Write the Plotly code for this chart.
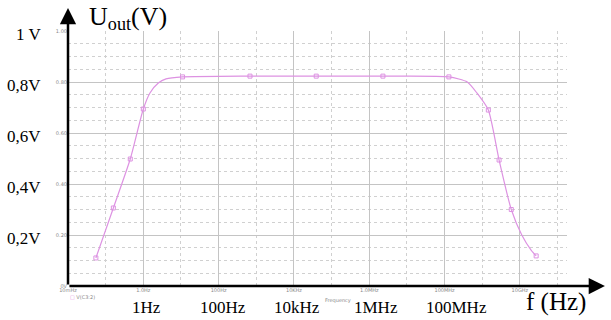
import math
import plotly.graph_objects as go

# ---- data ----
marker_freq = [0.055, 0.16, 0.45, 1.0, 11, 680, 39000, 2.3e6, 1.3e8, 1.45e9, 2.8e9, 5.9e9, 2.7e10]
marker_volt = [0.11, 0.306, 0.498, 0.694, 0.82, 0.823, 0.823, 0.823, 0.82, 0.69, 0.494, 0.30, 0.118]

curve_freq = [0.055, 0.16, 0.45, 1.0, 1.5, 2.5, 4.0, 11, 680, 39000, 2.3e6, 1.3e8,
              4.0e8, 7.2e8, 1.45e9, 2.8e9, 5.9e9, 1.12e10, 2.0e10, 2.7e10]
curve_volt = [0.11, 0.306, 0.498, 0.694, 0.757, 0.796, 0.812, 0.82, 0.823, 0.823, 0.823, 0.82,
              0.80, 0.757, 0.69, 0.494, 0.30, 0.20, 0.14, 0.118]

x_major = [1e-2, 1, 1e2, 1e4, 1e6, 1e8, 1e10]
x_major_text = ["10mHz", "1.0Hz", "100Hz", "10KHz", "1.0MHz", "100MHz", "10GHz"]
x_minor = [1e-1, 10, 1e3, 1e5, 1e7, 1e9, 1e11]

y_major = [0, 0.2, 0.4, 0.6, 0.8, 1.0]
y_major_text = ["0V", "0.20", "0.40", "0.60", "0.80", "1.00"]
y_minor = [0.05, 0.1, 0.15, 0.25, 0.3, 0.35, 0.45, 0.5, 0.55, 0.65, 0.7, 0.75, 0.85, 0.9, 0.95]

big_y_vals = [1.0, 0.8, 0.6, 0.4, 0.2]
big_y_text = ["1 V", "0,8V", "0,6V", "0,4V", "0,2V"]

big_x_vals = [1, 1e2, 1e4, 1e6, 1e8]
big_x_text = ["1Hz", "100Hz", "10kHz", "1MHz", "100MHz"]
big_x_shift = [3, 4, 3, 7, 12]

LINE = "#dd92e2"
SERIF = "Liberation Serif, Times New Roman, serif"
SMALL = dict(size=5, color="#888888", family="DejaVu Sans")

fig = go.Figure()
fig.add_trace(go.Scatter(x=curve_freq, y=curve_volt, mode="lines",
                         line=dict(color=LINE, width=1.2, shape="spline", smoothing=0.6),
                         hoverinfo="skip", showlegend=False))
fig.add_trace(go.Scatter(x=marker_freq, y=marker_volt, mode="markers",
                         marker=dict(symbol="square-open", size=4, color=LINE, line=dict(width=1)),
                         showlegend=False))

fig.update_layout(
    width=611, height=320,
    margin=dict(l=68, r=44, t=31, b=34, autoexpand=False),
    paper_bgcolor="white", plot_bgcolor="white",
    showlegend=False,
    xaxis=dict(type="log", range=[-2, 11.25], showline=False, zeroline=False, automargin=False,
               tickmode="array", tickvals=x_major, ticktext=x_major_text, tickfont=SMALL,
               showgrid=True, gridcolor="#c4c4c4", gridwidth=1, ticks="",
               minor=dict(tickmode="array", tickvals=x_minor, showgrid=True,
                          gridcolor="#d0d0d0", griddash="dot", gridwidth=1)),
    yaxis=dict(range=[0, 1], showline=False, zeroline=False, automargin=False,
               tickmode="array", tickvals=y_major, ticktext=y_major_text, tickfont=SMALL,
               showgrid=True, gridcolor="#c4c4c4", gridwidth=1, ticks="",
               minor=dict(tickmode="array", tickvals=y_minor, showgrid=True,
                          gridcolor="#d0d0d0", griddash="dot", gridwidth=1)),
)

# axis arrows
fig.add_annotation(xref="paper", yref="paper", x=0, y=1.09, ax=0, ay=278,
                   axref="pixel", ayref="pixel", text="", showarrow=True,
                   arrowhead=2, arrowsize=1.3, arrowwidth=2.5, arrowcolor="black")
fig.add_annotation(xref="paper", yref="paper", x=1.076, y=0, ax=-537, ay=0,
                   axref="pixel", ayref="pixel", text="", showarrow=True,
                   arrowhead=2, arrowsize=1.3, arrowwidth=2.5, arrowcolor="black")

# big y labels
for v, t in zip(big_y_vals, big_y_text):
    fig.add_annotation(xref="paper", yref="y", x=-0.05, y=v, text=t, showarrow=False,
                       xanchor="right", yanchor="middle", yshift=-3,
                       font=dict(family=SERIF, size=17, color="black"))

# big x labels
for v, t, s in zip(big_x_vals, big_x_text, big_x_shift):
    fig.add_annotation(xref="x", yref="paper", x=math.log10(v), y=-0.085, text=t,
                       showarrow=False, xanchor="center", yanchor="middle", xshift=s,
                       font=dict(family=SERIF, size=17, color="black"))

fig.add_annotation(xref="paper", yref="paper", x=(556 - 68) / 499, y=(286 - 302) / 255,
                   text="f (Hz)", showarrow=False, xanchor="center", yanchor="middle",
                   font=dict(family=SERIF, size=25, color="black"))
fig.add_annotation(xref="paper", yref="paper", x=(87 - 68) / 499, y=(286 - 18) / 255,
                   text="U<sub>out</sub>(V)", showarrow=False, xanchor="left", yanchor="middle",
                   font=dict(family=SERIF, size=26, color="black"))

# small PSpice texts
fig.add_annotation(xref="paper", yref="paper", x=(323 - 68) / 499, y=(286 - 300) / 255,
                   text="Frequency", showarrow=False, xanchor="left", yanchor="middle",
                   font=SMALL)
fig.add_annotation(xref="paper", yref="paper", x=0, y=(286 - 297) / 255,
                   text="<span style='color:%s'>□</span> V(C3:2)" % LINE, showarrow=False,
                   xanchor="left", yanchor="middle", font=SMALL)

fig.write_html("out.html", config={"displayModeBar": False},
               post_script="document.body.style.margin='0';document.body.style.overflow='hidden';")
